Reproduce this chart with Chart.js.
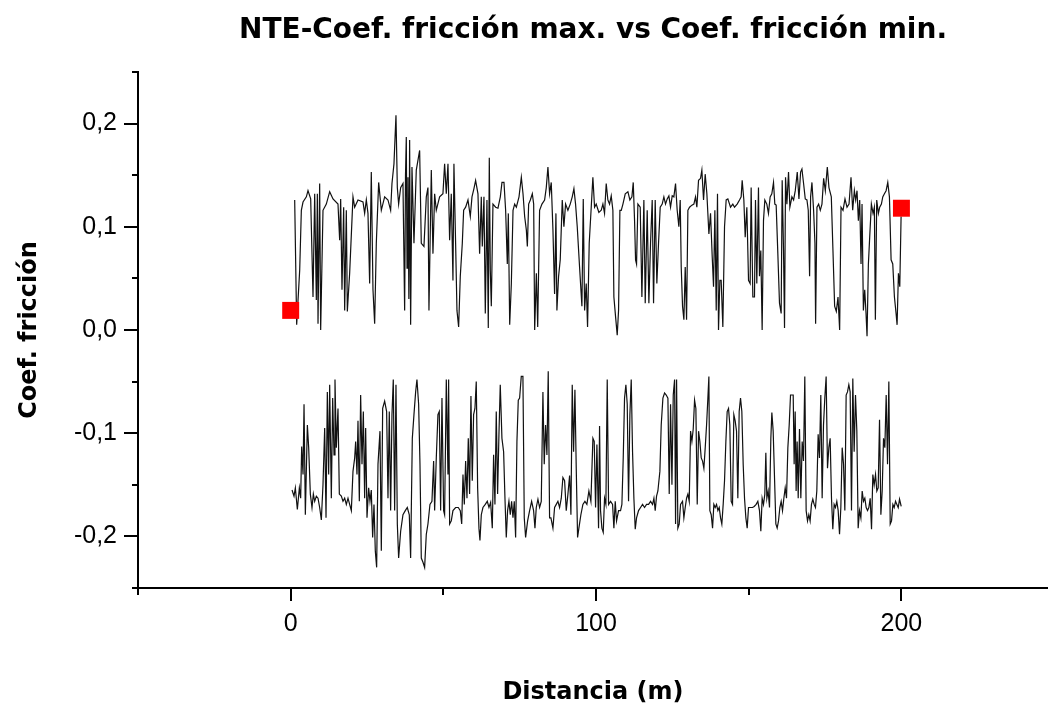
<!DOCTYPE html>
<html>
<head>
<meta charset="utf-8">
<script src="https://cdn.jsdelivr.net/npm/chart.js@4.4.1/dist/chart.umd.min.js"></script>
<style>
  html, body { margin: 0; padding: 0; background: #fff; }
  #wrap { width: 1048px; height: 711px; }
</style>
</head>
<body>
<div id="wrap"><canvas id="chart" width="1048" height="711"></canvas></div>
<script>
// Distancia (m), coef. fricción max.
const frictionMax = [
  [1.31,0.126],[1.96,0.005],[2.95,0.058],[3.49,0.116],[4.04,0.124],[5.13,0.129],[5.67,0.135],[6.55,0.127],
  [7.31,0.032],[7.86,0.132],[8.40,0.029],[8.73,0.132],[8.95,0.006],[9.49,0.142],[9.82,0.000],[10.58,0.116],
  [11.67,0.122],[12.77,0.134],[13.86,0.127],[15.49,0.122],[16.04,0.087],[16.37,0.127],[16.80,0.039],[17.35,0.119],
  [17.68,0.019],[18.22,0.116],[18.55,0.018],[19.31,0.055],[20.40,0.129],[20.95,0.119],[22.04,0.126],[23.68,0.124],
  [24.22,0.113],[24.77,0.126],[25.31,0.113],[25.86,0.045],[26.40,0.153],[26.95,0.039],[27.50,0.006],[28.04,0.084],
  [28.81,0.143],[29.68,0.116],[30.77,0.129],[31.86,0.126],[32.73,0.116],[33.17,0.142],[33.82,0.161],[34.48,0.208],
  [34.92,0.138],[35.35,0.122],[36.01,0.138],[36.77,0.142],[37.32,0.019],[37.60,0.150],[37.86,0.187],[38.10,0.060],
  [38.41,0.148],[38.70,0.030],[38.95,0.184],[39.28,0.005],[39.72,0.158],[40.37,0.084],[41.13,0.155],[42.23,0.174],
  [42.77,0.084],[43.64,0.081],[44.41,0.129],[44.95,0.138],[45.28,0.019],[46.05,0.155],[46.59,0.074],[47.14,0.132],
  [47.68,0.116],[48.77,0.129],[49.86,0.132],
  [50.41,0.161],[50.96,0.132],[51.51,0.161],[52.05,0.087],[52.59,0.132],[53.14,0.048],[53.46,0.161],[54.01,0.084],
  [54.45,0.019],[55.00,0.003],[55.54,0.052],[56.20,0.084],[56.64,0.116],[57.29,0.119],[58.06,0.126],[58.82,0.110],
  [59.37,0.129],[60.01,0.137],[60.56,0.145],[61.33,0.132],[61.87,0.074],[62.42,0.129],[62.75,0.081],[63.29,0.129],
  [63.73,0.016],[64.27,0.126],[64.71,0.002],[65.04,0.167],[65.37,0.058],[65.70,0.023],[66.24,0.122],[67.12,0.119],
  [67.88,0.118],[68.65,0.129],[69.19,0.143],[69.85,0.143],[70.39,0.116],[70.94,0.064],[71.27,0.113],[71.72,0.005],
  [72.26,0.045],[72.81,0.116],[73.35,0.122],[73.90,0.119],[74.77,0.129],[75.53,0.148],[76.08,0.132],[76.62,0.110],
  [77.17,0.097],[77.50,0.081],[77.93,0.122],[78.48,0.126],[79.13,0.132],[79.57,0.122],[79.90,0.000],[80.45,0.055],
  [80.89,0.003],[81.51,0.116],[82.28,0.122],[83.15,0.126],[83.70,0.138],[84.24,0.158],[84.79,0.132],[85.33,0.143],
  [85.88,0.097],[86.42,0.035],[86.86,0.113],[87.18,0.019],[87.73,0.052],[88.27,0.068],[88.93,0.126],[89.47,0.100],
  [90.02,0.122],[90.78,0.116],[91.54,0.122],[92.20,0.129],[92.75,0.137],[93.29,0.122],[93.84,0.100],[94.60,0.061],
  [95.37,0.023],[95.81,0.127],[96.25,0.019],[96.78,0.045],[97.22,0.003],[97.76,0.084],[98.42,0.119],[98.96,0.148],
  [99.51,0.119],[100.05,0.122],[100.92,0.114],
  [101.69,0.116],[102.24,0.122],[102.78,0.113],[103.33,0.142],[103.87,0.126],[104.42,0.122],[104.97,0.130],[105.51,0.116],
  [105.84,0.032],[106.39,0.013],[106.93,-0.005],[107.37,0.019],[107.81,0.116],[108.25,0.116],[108.80,0.122],[109.56,0.132],
  [110.43,0.134],[111.08,0.126],[111.74,0.129],[112.18,0.143],[112.61,0.106],[112.94,0.068],[113.26,0.064],[113.70,0.122],
  [114.46,0.119],[115.01,0.032],[115.66,0.126],[116.10,0.026],[116.75,0.116],[117.30,0.026],[117.84,0.084],[118.39,0.126],
  [118.83,0.026],[119.37,0.126],[119.91,0.045],[120.46,0.084],[121.01,0.119],[121.66,0.122],[122.21,0.129],[122.75,0.122],
  [123.30,0.127],[123.85,0.130],[124.39,0.119],[124.94,0.130],[125.48,0.129],[126.03,0.142],[126.57,0.116],[127.12,0.100],
  [127.56,0.126],[127.89,0.061],[128.32,0.023],[128.76,0.010],[129.20,0.061],[129.64,0.010],[130.07,0.116],[130.62,0.119],
  [131.39,0.121],[132.04,0.122],[132.57,0.129],[133.01,0.119],[133.56,0.145],[134.22,0.147],[134.65,0.155],[135.20,0.126],
  [135.74,0.151],[136.29,0.132],[136.95,0.093],[137.49,0.113],[138.04,0.071],[138.47,0.042],[138.91,0.116],[139.35,0.019],
  [139.77,0.132],[140.10,0.000],[140.54,0.048],[140.97,0.048],[141.52,0.003],[142.07,0.100],[142.61,0.126],[143.16,0.127],
  [144.03,0.119],[144.79,0.122],[145.34,0.119],[146.21,0.122],[146.98,0.126],[147.52,0.129],[147.85,0.145],[148.40,0.126],
  [148.84,0.090],[149.38,0.119],[149.93,0.048],[150.46,0.045],[150.79,0.138],[151.34,0.032],
  [151.88,0.032],[152.21,0.126],[152.64,0.045],[153.19,0.138],[153.52,0.052],[153.95,0.077],[154.39,0.000],[154.83,0.106],
  [155.27,0.126],[155.92,0.122],[156.46,0.113],[157.01,0.129],[157.56,0.132],[158.11,0.143],[158.54,0.122],[158.98,0.121],
  [159.53,0.074],[160.07,0.026],[160.62,0.016],[160.95,0.145],[161.39,0.077],[161.72,0.002],[162.05,0.148],[162.49,0.122],
  [163.03,0.153],[163.47,0.119],[164.14,0.129],[164.69,0.126],[165.24,0.135],[165.89,0.153],[166.44,0.127],[166.98,0.153],
  [167.42,0.156],[167.96,0.142],[168.51,0.127],[169.06,0.126],[169.49,0.116],[169.93,0.052],[170.26,0.129],[170.70,0.143],
  [171.24,0.116],[171.68,0.084],[171.90,0.006],[172.34,0.119],[172.89,0.122],[173.43,0.116],[173.98,0.122],[174.53,0.147],
  [175.08,0.135],[175.73,0.158],[176.27,0.138],[177.04,0.129],[177.58,0.077],[178.13,0.023],[178.68,0.018],[179.23,0.032],
  [179.77,0.000],[180.22,0.119],[180.87,0.116],[181.52,0.127],[182.18,0.119],[182.84,0.122],[183.49,0.148],[184.04,0.116],
  [184.59,0.135],[185.02,0.126],[185.46,0.135],[185.90,0.106],[186.34,0.126],[186.77,0.064],[187.10,0.122],[187.54,0.019],
  [187.98,0.039],[188.41,0.016],[188.74,-0.006],[189.18,0.064],[189.61,0.090],[190.16,0.122],[190.71,0.113],[191.14,0.119],
  [191.47,0.010],[191.91,0.126],[192.46,0.113],[192.89,0.119],[193.44,0.122],[193.89,0.129],[194.43,0.132],[194.98,0.135],
  [195.53,0.143],[196.07,0.129],[196.62,0.068],[197.16,0.064],[197.71,0.032],[198.25,0.016],[198.58,0.005],[199.02,0.055],
  [199.46,0.042],[199.89,0.110]
];

// Distancia (m), coef. fricción min.
const frictionMin = [
  [0.44,-0.155],[1.09,-0.161],[1.53,-0.153],[2.18,-0.174],[2.84,-0.153],[3.27,-0.163],[3.60,-0.113],[4.04,-0.140],
  [4.37,-0.072],[4.80,-0.179],[5.46,-0.092],[5.89,-0.114],[6.44,-0.159],[6.98,-0.172],[7.42,-0.159],[7.86,-0.166],
  [8.40,-0.161],[8.95,-0.163],[9.49,-0.172],[10.04,-0.184],[10.58,-0.150],[11.13,-0.095],[11.57,-0.182],[12.00,-0.060],
  [12.44,-0.140],[12.77,-0.053],[13.31,-0.163],[13.75,-0.066],[14.19,-0.121],[14.51,-0.048],[14.95,-0.114],[15.49,-0.076],
  [15.93,-0.159],[16.59,-0.161],[17.13,-0.166],[17.68,-0.163],[18.22,-0.169],[18.77,-0.163],[19.31,-0.169],[19.86,-0.175],
  [20.40,-0.137],[20.95,-0.124],[21.28,-0.108],[21.71,-0.140],[22.04,-0.088],[22.48,-0.166],[22.91,-0.063],[23.35,-0.130],
  [23.79,-0.079],[24.22,-0.163],[24.55,-0.095],[24.99,-0.182],[25.53,-0.153],[25.97,-0.166],[26.40,-0.155],[26.84,-0.201],
  [27.28,-0.169],[27.71,-0.214],[28.15,-0.230],[28.59,-0.130],[29.24,-0.098],[29.68,-0.214],[30.12,-0.076],[30.77,-0.069],
  [31.42,-0.079],[31.86,-0.163],[32.29,-0.079],[32.73,-0.175],[33.17,-0.082],[33.60,-0.048],[34.04,-0.175],[34.48,-0.053],
  [34.92,-0.188],[35.35,-0.221],[36.01,-0.195],[36.77,-0.179],[37.53,-0.175],[38.19,-0.172],[38.84,-0.179],[39.28,-0.221],
  [39.83,-0.105],[40.37,-0.082],[40.92,-0.060],[41.35,-0.048],[41.90,-0.072],[42.34,-0.130],[42.77,-0.221],[43.32,-0.225],
  [43.86,-0.230],[44.41,-0.198],[44.95,-0.188],[45.61,-0.169],[46.26,-0.166],[46.81,-0.127],[47.14,-0.175],[47.68,-0.124],
  [48.22,-0.082],[48.66,-0.079],[49.10,-0.175],[49.54,-0.066],[50.08,-0.175],
  [50.41,-0.179],[50.96,-0.048],[51.51,-0.140],[51.72,-0.048],[52.05,-0.188],[52.59,-0.185],[53.14,-0.175],[54.01,-0.172],
  [54.88,-0.172],[55.54,-0.175],[56.00,-0.188],[56.42,-0.140],[56.86,-0.169],[57.29,-0.127],[57.73,-0.163],[58.16,-0.105],
  [58.59,-0.159],[59.03,-0.064],[59.46,-0.146],[59.90,-0.082],[60.34,-0.076],[60.77,-0.050],[61.22,-0.153],[61.65,-0.192],
  [61.98,-0.204],[62.42,-0.179],[62.96,-0.172],[63.72,-0.169],[64.38,-0.166],[64.93,-0.172],[65.48,-0.167],[66.02,-0.192],
  [66.45,-0.121],[66.89,-0.169],[67.32,-0.079],[67.76,-0.159],[68.20,-0.101],[68.63,-0.053],[69.18,-0.105],[69.73,-0.118],
  [70.17,-0.163],[70.60,-0.201],[71.03,-0.175],[71.47,-0.166],[71.91,-0.179],[72.35,-0.166],[72.79,-0.182],[73.22,-0.166],
  [73.66,-0.201],[74.09,-0.108],[74.53,-0.068],[74.97,-0.066],[75.51,-0.045],[76.05,-0.045],[76.49,-0.182],[76.93,-0.201],
  [77.59,-0.185],[78.24,-0.175],[78.90,-0.166],[79.55,-0.175],[79.99,-0.192],[80.42,-0.172],[80.97,-0.164],[81.51,-0.172],
  [82.06,-0.166],[82.60,-0.060],[83.03,-0.130],[83.47,-0.092],[83.91,-0.121],[84.34,-0.040],[84.78,-0.182],[85.22,-0.182],
  [85.88,-0.192],[86.42,-0.172],[86.97,-0.169],[87.51,-0.166],[88.06,-0.172],[88.61,-0.163],[89.15,-0.143],[89.70,-0.146],
  [90.24,-0.175],[90.79,-0.159],[91.34,-0.141],[91.77,-0.179],[92.20,-0.053],[92.64,-0.118],[93.08,-0.058],[93.51,-0.134],
  [93.95,-0.201],[94.38,-0.192],[95.03,-0.179],[95.69,-0.169],[96.35,-0.166],[97.00,-0.169],[97.66,-0.156],[98.31,-0.166],
  [98.97,-0.105],[99.40,-0.108],[99.84,-0.172],[100.28,-0.111],[100.82,-0.192],
  [101.15,-0.093],[101.47,-0.175],[101.91,-0.192],[102.35,-0.196],[102.78,-0.163],[103.22,-0.169],[103.66,-0.048],[104.10,-0.169],
  [104.75,-0.166],[105.41,-0.169],[105.84,-0.192],[106.28,-0.166],[106.71,-0.185],[107.37,-0.175],[108.02,-0.175],[108.46,-0.169],
  [108.90,-0.124],[109.33,-0.066],[109.77,-0.053],[110.21,-0.072],[110.64,-0.166],[111.08,-0.082],[111.52,-0.048],[111.95,-0.118],
  [112.39,-0.163],[112.83,-0.193],[113.26,-0.182],[113.92,-0.175],[114.57,-0.172],[115.23,-0.169],[115.88,-0.172],[116.54,-0.169],
  [117.20,-0.169],[117.85,-0.166],[118.51,-0.169],[118.95,-0.163],[119.37,-0.175],[119.81,-0.161],[120.25,-0.156],[120.90,-0.137],
  [121.34,-0.092],[121.89,-0.066],[122.44,-0.061],[122.98,-0.063],[123.53,-0.066],[123.96,-0.159],[124.40,-0.072],[124.85,-0.150],
  [125.28,-0.063],[125.72,-0.048],[126.04,-0.188],[126.37,-0.048],[126.79,-0.192],[127.23,-0.188],[127.67,-0.169],[128.32,-0.166],
  [128.76,-0.182],[129.20,-0.172],[129.64,-0.163],[130.07,-0.159],[130.51,-0.166],[130.95,-0.098],[131.39,-0.108],[131.82,-0.096],
  [132.26,-0.068],[132.69,-0.076],[133.13,-0.169],[133.57,-0.098],[134.00,-0.108],[134.44,-0.124],[134.88,-0.127],[135.31,-0.134],
  [135.75,-0.114],[136.19,-0.092],[136.62,-0.066],[136.95,-0.045],[137.27,-0.175],[137.71,-0.179],[138.15,-0.192],[138.58,-0.169],
  [139.02,-0.172],[139.46,-0.169],[139.89,-0.175],[140.33,-0.172],[140.77,-0.182],[141.19,-0.188],[141.63,-0.169],[142.07,-0.146],
  [142.51,-0.108],[142.94,-0.079],[143.38,-0.076],[143.81,-0.092],[144.25,-0.166],[144.69,-0.169],[145.12,-0.082],[145.56,-0.088],
  [146.00,-0.098],[146.43,-0.163],[146.87,-0.079],[147.31,-0.066],[147.74,-0.079],[148.18,-0.130],[148.62,-0.163],[149.06,-0.182],
  [149.49,-0.192],[149.93,-0.172],[150.59,-0.172],[151.24,-0.172],[151.78,-0.171],
  [152.43,-0.169],[152.98,-0.166],[153.52,-0.175],[153.96,-0.195],[154.39,-0.163],[154.83,-0.169],[155.27,-0.159],[155.60,-0.119],
  [155.93,-0.163],[156.36,-0.156],[156.80,-0.172],[157.24,-0.105],[157.57,-0.080],[158.00,-0.098],[158.44,-0.143],[158.88,-0.188],
  [159.31,-0.192],[159.75,-0.185],[160.19,-0.172],[160.62,-0.166],[161.06,-0.175],[161.50,-0.163],[161.94,-0.153],[162.37,-0.163],
  [162.81,-0.114],[163.25,-0.092],[163.68,-0.063],[164.12,-0.063],[164.56,-0.063],[164.87,-0.130],[165.21,-0.079],[165.52,-0.156],
  [165.85,-0.108],[166.20,-0.163],[166.62,-0.096],[167.06,-0.163],[167.50,-0.108],[167.93,-0.127],[168.36,-0.045],[168.80,-0.175],
  [169.25,-0.185],[169.68,-0.179],[170.10,-0.185],[170.54,-0.169],[170.98,-0.164],[171.42,-0.169],[171.85,-0.172],[172.29,-0.156],
  [172.73,-0.101],[173.16,-0.124],[173.60,-0.063],[174.04,-0.163],[174.48,-0.092],[174.91,-0.066],[175.35,-0.045],[175.79,-0.134],
  [176.23,-0.114],[176.66,-0.105],[177.10,-0.163],[177.53,-0.193],[177.97,-0.169],[178.40,-0.172],[178.84,-0.166],[179.29,-0.175],
  [179.73,-0.198],[180.16,-0.172],[180.60,-0.114],[181.04,-0.130],[181.47,-0.175],[181.90,-0.063],[182.34,-0.060],[182.78,-0.053],
  [183.21,-0.060],[183.65,-0.175],[184.08,-0.047],[184.52,-0.118],[184.96,-0.063],[185.40,-0.098],[185.83,-0.192],[186.27,-0.175],
  [186.72,-0.182],[187.15,-0.156],[187.58,-0.166],[188.02,-0.163],[188.46,-0.172],[188.90,-0.175],[189.33,-0.172],[189.77,-0.163],
  [190.21,-0.193],[190.64,-0.140],[191.08,-0.150],[191.52,-0.140],[191.95,-0.156],[192.39,-0.153],[192.83,-0.087],[193.27,-0.179],
  [193.70,-0.156],[194.14,-0.105],[194.57,-0.114],[195.01,-0.063],[195.45,-0.130],[195.88,-0.050],[196.33,-0.188],[196.76,-0.185],
  [197.20,-0.169],[197.63,-0.172],[198.07,-0.166],[198.51,-0.169],[198.95,-0.172],[199.38,-0.164],[199.93,-0.171]
];

// red square markers
const markerPoints = [[0, 0.019], [200, 0.118]];

const xMajorTicks = [0, 100, 200];
const xMinorTicks = [-50, 50, 150];
const yMajorTicks = [-0.2, -0.1, 0, 0.1, 0.2];
const yMinorTicks = [-0.25, -0.15, -0.05, 0.05, 0.15, 0.25];

const toXY = arr => arr.map(p => ({ x: p[0], y: p[1] }));

// Origin style outward tick marks, major long and minor short
const axisTicks = {
  id: 'axisTicks',
  afterDraw(chart) {
    const { ctx, chartArea, scales } = chart;
    ctx.save();
    ctx.strokeStyle = '#000';
    ctx.lineWidth = 2;
    ctx.beginPath();
    xMajorTicks.forEach(v => {
      const px = Math.round(scales.x.getPixelForValue(v));
      ctx.moveTo(px, chartArea.bottom);
      ctx.lineTo(px, chartArea.bottom + 13);
    });
    xMinorTicks.forEach(v => {
      const px = Math.round(scales.x.getPixelForValue(v));
      ctx.moveTo(px, chartArea.bottom);
      ctx.lineTo(px, chartArea.bottom + 7);
    });
    yMajorTicks.forEach(v => {
      const py = Math.round(scales.y.getPixelForValue(v));
      ctx.moveTo(chartArea.left, py);
      ctx.lineTo(chartArea.left - 14, py);
    });
    yMinorTicks.forEach(v => {
      const py = Math.round(scales.y.getPixelForValue(v));
      ctx.moveTo(chartArea.left, py);
      ctx.lineTo(chartArea.left - 6, py);
    });
    ctx.stroke();
    ctx.restore();
  }
};

const titleFont = { family: "'DejaVu Sans', sans-serif", size: 28, weight: 'bold' };
const axisTitleFont = { family: "'DejaVu Sans', sans-serif", size: 24, weight: 'bold' };
const tickFont = { family: "'Liberation Sans', Arial, sans-serif", size: 25 };

new Chart(document.getElementById('chart').getContext('2d'), {
  type: 'scatter',
  data: {
    datasets: [
      {
        label: 'Marcadores',
        data: toXY(markerPoints),
        pointStyle: 'rect',
        pointRadius: 12,
        backgroundColor: '#ff0000',
        borderWidth: 0,
        showLine: false
      },
      {
        label: 'Coef. fricción max.',
        data: toXY(frictionMax),
        showLine: true,
        borderColor: '#111',
        borderWidth: 1.2,
        pointRadius: 0,
        tension: 0
      },
      {
        label: 'Coef. fricción min.',
        data: toXY(frictionMin),
        showLine: true,
        borderColor: '#111',
        borderWidth: 1.2,
        pointRadius: 0,
        tension: 0
      }
    ]
  },
  options: {
    responsive: false,
    animation: false,
    devicePixelRatio: 1,
    layout: { padding: 0, autoPadding: false },
    plugins: {
      legend: { display: false },
      tooltip: { enabled: false },
      title: {
        display: true,
        fullSize: false,
        text: 'NTE-Coef. fricción max. vs Coef. fricción min.',
        color: '#000',
        font: titleFont,
        padding: { top: 14, bottom: 24.4 }
      }
    },
    scales: {
      x: {
        type: 'linear',
        min: -50,
        max: 248,
        afterBuildTicks: s => { s.ticks = xMajorTicks.map(v => ({ value: v })); },
        afterFit: s => { s.height = 123; },
        grid: { display: true, drawOnChartArea: false, drawTicks: false },
        border: { display: true, color: '#000', width: 2 },
        ticks: {
          padding: 21,
          color: '#000',
          font: tickFont,
          maxRotation: 0,
          autoSkip: false,
          callback: v => String(v)
        },
        title: {
          display: true,
          text: 'Distancia (m)',
          color: '#000',
          font: axisTitleFont,
          padding: { top: 0, bottom: 4 }
        }
      },
      y: {
        type: 'linear',
        min: -0.25,
        max: 0.25,
        afterBuildTicks: s => { s.ticks = yMajorTicks.map(v => ({ value: v })); },
        afterFit: s => { s.width = 138; },
        grid: { display: true, drawOnChartArea: false, drawTicks: false },
        border: { display: true, color: '#000', width: 2 },
        ticks: {
          padding: 21,
          color: '#000',
          font: tickFont,
          autoSkip: false,
          callback: v => v.toFixed(1).replace('.', ',')
        },
        title: {
          display: true,
          text: 'Coef. fricción',
          color: '#000',
          font: axisTitleFont,
          padding: { top: 15, bottom: 0 }
        }
      }
    }
  },
  plugins: [axisTicks]
});
</script>
</body>
</html>
